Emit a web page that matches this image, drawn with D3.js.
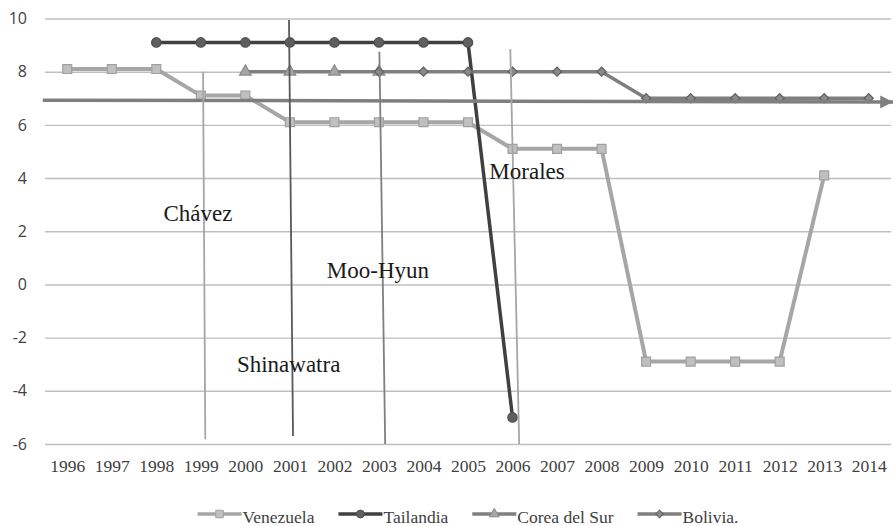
<!DOCTYPE html>
<html>
<head>
<meta charset="utf-8">
<script src="https://cdn.jsdelivr.net/npm/d3@7"></script>
<style>
  body { margin: 0; background: #fff; }
  svg { display: block; }
</style>
</head>
<body>
<div id="chart"></div>
<script>
// categories
var years = [1996, 1997, 1998, 1999, 2000, 2001, 2002, 2003, 2004, 2005,
             2006, 2007, 2008, 2009, 2010, 2011, 2012, 2013, 2014];

// series values (null = no point)
var venezuela = [8.1, 8.1, 8.1, 7.1, 7.1, 6.1, 6.1, 6.1, 6.1, 6.1,
                 5.1, 5.1, 5.1, -2.9, -2.9, -2.9, -2.9, 4.1, null];
var tailandia = [null, null, 9.1, 9.1, 9.1, 9.1, 9.1, 9.1, 9.1, 9.1,
                 -5, null, null, null, null, null, null, null, null];
var coreaDelSur = [null, null, null, null, 8, 8, 8, 8, null, null,
                   null, null, null, null, null, null, null, null, null];
var bolivia = [null, null, null, null, null, null, null, 8, 8, 8,
               8, 8, 8, 7, 7, 7, 7, 7, 7];

var seriesNames = ['Venezuela', 'Tailandia', 'Corea del Sur', 'Bolivia.'];
var yTicks = [-6, -4, -2, 0, 2, 4, 6, 8, 10];

// hand-drawn notes on the chart, in data units (year, value)
var noteLabels = ['Chávez', 'Moo-Hyun', 'Shinawatra', 'Morales'];
var noteLabelAt = [[1998.16, 2.4], [2001.83, 0.25], [1999.81, -3.31], [2005.48, 3.96]];
var noteLines = [
  [[1999.05, 8.0], [1999.1, -5.82]],
  [[2000.98, 9.94], [2001.07, -5.7]],
  [[2003.01, 8.75], [2003.14, -6.0]],
  [[2005.95, 8.85], [2006.15, -6.0]]
];
var arrowLine = [[1995.45, 6.93], [2014.55, 6.86]];

(function () {

  var W = 893, H = 526
    , padL = 45, padR = 891, padT = 18.5, padB = 444
  ;

  var x = d3.scaleLinear().domain([1995.5, 2014.5]).range([padL, padR]);
  var y = d3.scaleLinear().domain([-6, 10]).range([padB, padT]);

  var svg = d3.select('#chart').append('svg')
    .attr('width', W)
    .attr('height', H);

  svg.append('defs').append('marker')
    .attr('id', 'arrowhead')
    .attr('viewBox', '0 0 10 10')
    .attr('refX', 10).attr('refY', 5)
    .attr('markerUnits', 'userSpaceOnUse')
    .attr('markerWidth', 15).attr('markerHeight', 13)
    .attr('orient', 'auto')
    .append('path')
      .attr('d', 'M0,0 L10,5 L0,10 Z')
      .attr('fill', '#7f7f7f');

  // gridlines + y labels
  var yAxis = svg.append('g')
    .attr('transform', 'translate(' + padL + ',0)')
    .call(d3.axisLeft(y).tickValues(yTicks).tickFormat(String)
      .tickSize(-(padR - padL)).tickPadding(18));
  yAxis.select('.domain').remove();
  yAxis.selectAll('.tick line').attr('stroke', '#bfbfbf').attr('stroke-width', 1.4);
  yAxis.selectAll('.tick text')
    .attr('fill', '#404040')
    .style('font-family', '"Open Sans", "Liberation Sans", sans-serif')
    .style('font-size', '16px');

  // x labels
  var xAxis = svg.append('g')
    .attr('transform', 'translate(0,' + padB + ')')
    .call(d3.axisBottom(x).tickValues(years).tickFormat(d3.format('d')).tickSize(0));
  xAxis.select('.domain').remove();
  xAxis.selectAll('.tick text')
    .attr('y', 28).attr('dy', 0)
    .attr('fill', '#404040')
    .style('font-family', '"Liberation Serif", "DejaVu Serif", serif')
    .style('font-size', '17.5px');

  var styles = [
    {line: '#a6a6a6', fill: '#c0c0c0', stroke: '#a0a0a0', sym: d3.symbolSquare, size: 80, rot: 0, w: 4},
    {line: '#404040', fill: '#5f5f5f', stroke: '#505050', sym: d3.symbolCircle, size: 70, rot: 0, w: 3.5},
    {line: '#7f7f7f', fill: '#a6a6a6', stroke: '#8a8a8a', sym: d3.symbolTriangle, size: 60, rot: 0, w: 3.5},
    {line: '#7f7f7f', fill: '#8a8a8a', stroke: '#5f5f5f', sym: d3.symbolSquare, size: 42, rot: 45, w: 3.5}
  ];
  var allSeries = [venezuela, tailandia, coreaDelSur, bolivia];

  var line = d3.line()
    .defined(function (d) { return d.v !== null; })
    .x(function (d) { return x(d.year); })
    .y(function (d) { return y(d.v); });

  allSeries.forEach(function (vals, i) {
    var pts = years.map(function (yr, j) { return {year: yr, v: vals[j]}; });
    var st = styles[i];
    var g = svg.append('g');
    g.append('path')
      .datum(pts)
      .attr('fill', 'none')
      .attr('stroke', st.line)
      .attr('stroke-width', st.w)
      .attr('stroke-linejoin', 'round')
      .attr('d', line);
    g.selectAll('path.pt')
      .data(pts.filter(function (d) { return d.v !== null; }))
      .enter()
      .append('path')
        .attr('class', 'pt')
        .attr('d', d3.symbol().type(st.sym).size(st.size))
        .attr('transform', function (d) {
           return 'translate(' + x(d.year) + ',' + y(d.v) + ') rotate(' + st.rot + ')';
         })
        .attr('fill', st.fill)
        .attr('stroke', st.stroke)
        .attr('stroke-width', 1.2);
  });

  // arrow across the chart
  svg.append('line')
    .attr('x1', x(arrowLine[0][0])).attr('y1', y(arrowLine[0][1]))
    .attr('x2', x(arrowLine[1][0])).attr('y2', y(arrowLine[1][1]))
    .attr('stroke', '#7f7f7f')
    .attr('stroke-width', 3.5)
    .attr('marker-end', 'url(#arrowhead)');

  // vertical lines
  var noteColors = ['#a6a6a6', '#595959', '#7f7f7f', '#a6a6a6'];
  svg.selectAll('line.note')
    .data(noteLines)
    .enter()
    .append('line')
      .attr('class', 'note')
      .attr('x1', function (d) { return x(d[0][0]); })
      .attr('y1', function (d) { return y(d[0][1]); })
      .attr('x2', function (d) { return x(d[1][0]); })
      .attr('y2', function (d) { return y(d[1][1]); })
      .attr('stroke', function (d, i) { return noteColors[i]; })
      .attr('stroke-width', 1.8);

  svg.selectAll('text.note')
    .data(noteLabels)
    .enter()
    .append('text')
      .attr('class', 'note')
      .attr('x', function (d, i) { return x(noteLabelAt[i][0]); })
      .attr('y', function (d, i) { return y(noteLabelAt[i][1]); })
      .attr('fill', '#1a1a1a')
      .style('font-family', '"Liberation Serif", "DejaVu Serif", serif')
      .style('font-size', '23px')
      .text(function (d) { return d; });

  // legend
  var legend = svg.append('g');
  var lx = 0;
  seriesNames.forEach(function (name, i) {
    var st = styles[i];
    var it = legend.append('g').attr('transform', 'translate(' + lx + ',0)');
    it.append('line')
      .attr('x1', 0).attr('x2', 44).attr('y1', 514).attr('y2', 514)
      .attr('stroke', st.line).attr('stroke-width', 3.5);
    it.append('path')
      .attr('d', d3.symbol().type(st.sym).size(st.size * 0.7))
      .attr('transform', 'translate(22,514) rotate(' + st.rot + ')')
      .attr('fill', st.fill).attr('stroke', st.stroke).attr('stroke-width', 1);
    var t = it.append('text')
      .attr('x', 45).attr('y', 523)
      .attr('fill', '#404040')
      .style('font-family', '"Liberation Serif", "DejaVu Serif", serif')
      .style('font-size', '17.5px')
      .text(name);
    lx += 45 + t.node().getComputedTextLength() + 24;
  });
  var legendW = lx - 24;
  legend.attr('transform', 'translate(' + ((padL + padR) / 2 - legendW / 2) + ',0)');

}).call(this);
</script>
</body>
</html>
